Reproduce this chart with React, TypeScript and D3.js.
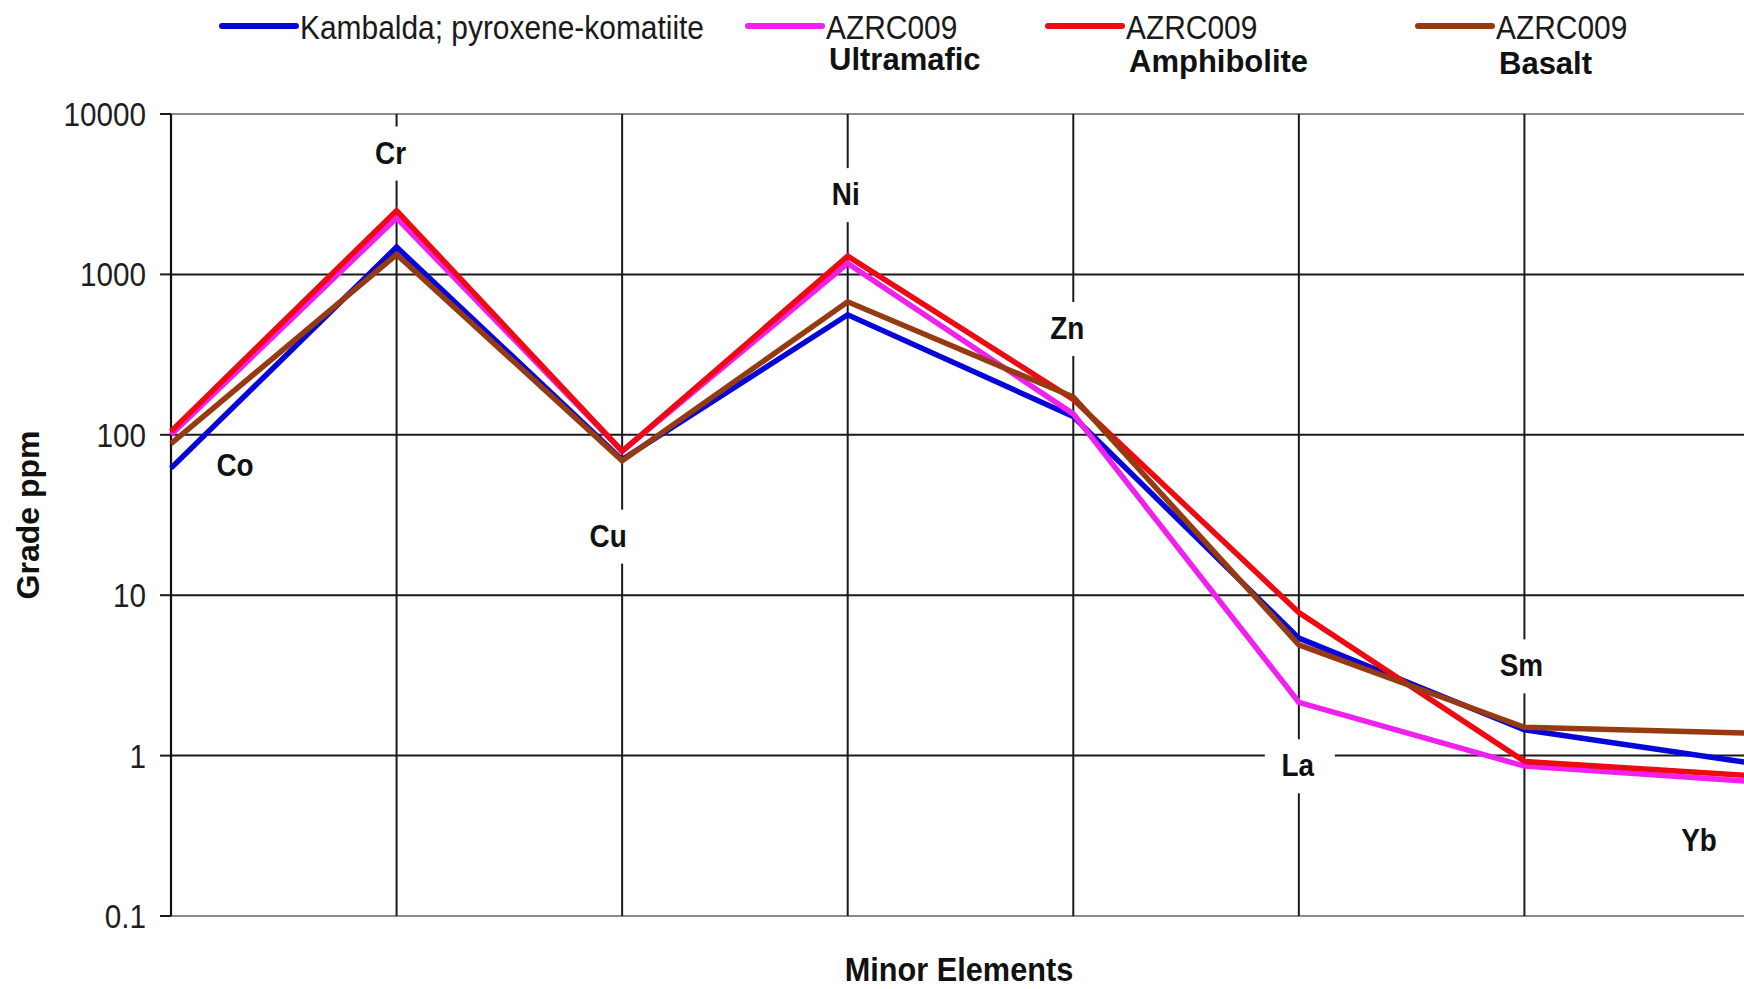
import React from 'react';
import * as d3 from 'd3';

// ---------- data ----------
const categories = ["Co", "Cr", "Cu", "Ni", "Zn", "La", "Sm", "Yb"];
const kambalda = [62, 1480, 70, 560, 130, 5.4, 1.45, 0.9];
const ultramafic = [100, 2250, 79, 1170, 135, 2.15, 0.86, 0.69];
const amphibolite = [105, 2500, 79, 1300, 166, 7.8, 0.92, 0.75];
const basalt = [88, 1330, 69, 675, 172, 4.9, 1.5, 1.38];
const yTicks = [0.1, 1, 10, 100, 1000, 10000];
const yTickLabels = ["0.1", "1", "10", "100", "1000", "10000"];
const seriesNames = ["Kambalda; pyroxene-komatiite", "AZRC009", "AZRC009", "AZRC009"];
const seriesSubtitles = ["", "Ultramafic", "Amphibolite", "Basalt"];

// ---------- layout / style ----------
const W = 1744, H = 989;
const left = 171, top = 114, bottom = 916, rightCat = 1750;
const seriesColors = ["#0606d8", "#f020ee", "#ee0a12", "#963a12"];
const legendX = [222, 748, 1048, 1418];
const legendSubDy = [0, 44, 46, 48];
// label placement relative to extreme value of each category
const labelPlace = [
  { anchor: "min", dx: 64, dy: -3 },
  { anchor: "max", dx: -6, dy: -58 },
  { anchor: "min", dx: -14, dy: 75 },
  { anchor: "max", dx: -2, dy: -62 },
  { anchor: "max", dx: -6, dy: -69 },
  { anchor: "min", dx: -1, dy: 63 },
  { anchor: "max", dx: -3, dy: -62 },
  { anchor: "min", dx: -51, dy: 58 },
];

const FONT = "'Liberation Sans', Arial, Helvetica, sans-serif";

function SText({ x, y, sx = 1, size, weight = "normal", anchor = "start", fill = "#111", children }: any) {
  return (
    <g transform={`translate(${x},${y}) scale(${sx},1)`}>
      <text x={0} y={0} fontFamily={FONT} fontSize={size} fontWeight={weight} textAnchor={anchor} fill={fill}>
        {children}
      </text>
    </g>
  );
}

export default function App() {
  const series = [kambalda, ultramafic, amphibolite, basalt];
  const x = d3.scalePoint<string>().domain(categories).range([left, rightCat]);
  const y = d3.scaleLog().domain([0.1, 10000]).range([bottom, top]);
  const line = d3
    .line<number>()
    .x((_, i) => x(categories[i]) as number)
    .y((d) => y(d));

  const labelFs = 31;

  return (
    <svg width={W} height={H} style={{ position: "absolute", left: 0, top: 0, background: "#fff" }}>
      <rect x={0} y={0} width={W} height={H} fill="#fff" />

      {/* horizontal gridlines */}
      {yTicks.map((t, i) => {
        const edge = i === 0 || i === yTicks.length - 1;
        return (
          <g key={"h" + t}>
            <line x1={left} x2={W + 20} y1={y(t)} y2={y(t)} stroke={edge ? "#8a8a8a" : "#1a1a1a"} strokeWidth={2} />
            <line x1={160} x2={left} y1={y(t)} y2={y(t)} stroke="#1a1a1a" strokeWidth={2} />
            <SText x={146} y={y(t) + 12} sx={0.9} size={33} anchor="end" fill="#1e1e1e">
              {yTickLabels[i]}
            </SText>
          </g>
        );
      })}

      {/* vertical gridlines */}
      {categories.slice(1).map((c) => (
        <line key={"v" + c} x1={x(c)} x2={x(c)} y1={top} y2={bottom} stroke="#1a1a1a" strokeWidth={2} />
      ))}
      {/* value axis */}
      <line x1={left} x2={left} y1={top} y2={bottom} stroke="#111" strokeWidth={2.2} />

      {/* data labels with white boxes */}
      {categories.map((c, i) => {
        const vals = series.map((s) => s[i]);
        const p = labelPlace[i];
        const v = p.anchor === "max" ? d3.max(vals)! : d3.min(vals)!;
        const cx = (x(c) as number) + p.dx;
        const cy = y(v) + p.dy;
        return (
          <g key={"lab" + c}>
            <rect x={cx - 33} y={cy - 26} width={70} height={54} fill="#fff" />
            <SText x={cx} y={cy + labelFs * 0.358} sx={0.9} size={labelFs} weight="bold" anchor="middle" fill="#111">
              {c}
            </SText>
          </g>
        );
      })}

      {/* series */}
      {series.map((s, k) => (
        <path key={"s" + k} d={line(s) || ""} fill="none" stroke={seriesColors[k]} strokeWidth={5.5} strokeLinejoin="miter" />
      ))}

      {/* legend */}
      {seriesNames.map((n, k) => (
        <g key={"lg" + k}>
          <line x1={legendX[k]} x2={legendX[k] + 74} y1={26} y2={26} stroke={seriesColors[k]} strokeWidth={6} strokeLinecap="round" />
          <SText x={legendX[k] + 78} y={39} sx={0.88} size={34} fill="#1a1a1a">
            {n}
          </SText>
          {seriesSubtitles[k] && (
            <SText x={legendX[k] + 81} y={26 + legendSubDy[k]} sx={1} size={31} weight="bold" fill="#111">
              {seriesSubtitles[k]}
            </SText>
          )}
        </g>
      ))}

      {/* axis titles */}
      <SText x={959} y={981} sx={0.93} size={33} weight="bold" anchor="middle" fill="#111">
        Minor Elements
      </SText>
      <g transform={`translate(39,515) rotate(-90)`}>
        <text x={0} y={0} fontFamily={FONT} fontSize={32} fontWeight="bold" textAnchor="middle" fill="#111">
          Grade ppm
        </text>
      </g>
    </svg>
  );
}
